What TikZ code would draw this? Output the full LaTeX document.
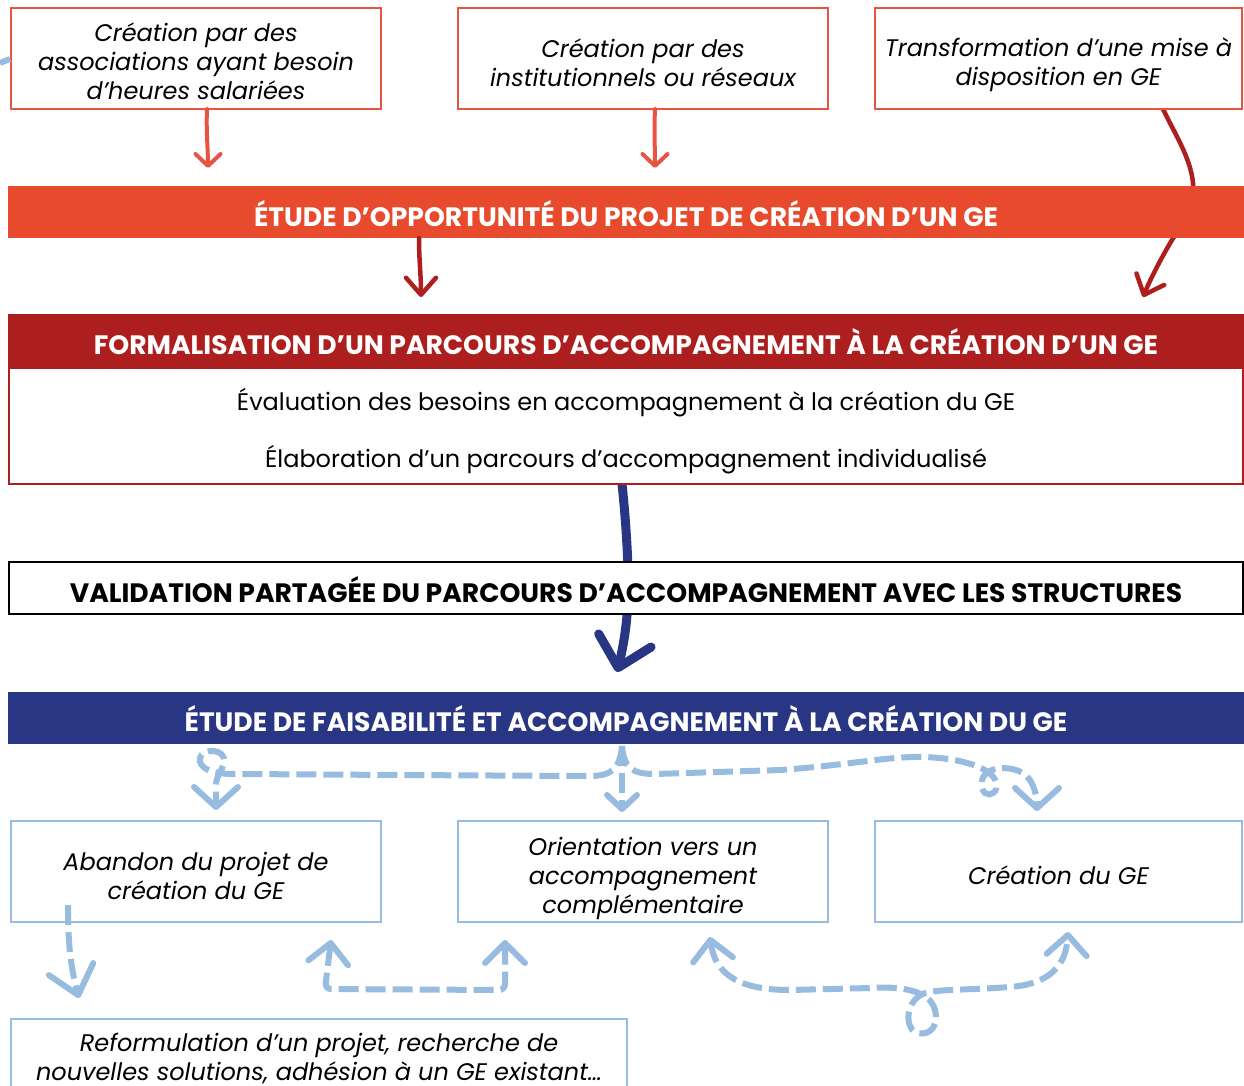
\documentclass[tikz,border=0pt]{standalone}
\usepackage{fontspec}
\setmainfont{Poppins}
\usetikzlibrary{arrows.meta,backgrounds}
\definecolor{cRed}{RGB}{232,84,66}
\definecolor{cOrange}{RGB}{232,74,45}
\definecolor{cDark}{RGB}{173,31,30}
\definecolor{cNavy}{RGB}{41,54,132}
\definecolor{cLight}{RGB}{152,187,224}
\newcommand\myit{\fontsize{24}{29}\selectfont\itshape}
\newcommand\mybold{\fontsize{26.6}{30}\selectfont\bfseries}
\newcommand\myreg{\fontsize{24}{28}\selectfont}
\begin{document}
\begin{tikzpicture}[x=1pt,y=-1pt,
  every node/.style={inner sep=0pt, outer sep=0pt},
  topbox/.style={draw=cRed, line width=2.4pt, fill=white, minimum width=370pt, minimum height=101pt},
  botbox/.style={draw=cLight, line width=2.4pt, fill=white, minimum width=370pt, minimum height=101pt},
  boxtext/.style={align=center, font=\myit},
  band/.style={minimum width=1236pt, minimum height=52pt},
  bandtext/.style={anchor=base, font=\mybold, text=white},
  redarr/.style={draw=cRed, line width=4pt, line cap=round, -{Straight Barb[length=12pt,width=25pt,round]}},
  darkarr/.style={draw=cDark, line width=4.5pt, line cap=round, -{Straight Barb[length=17pt,width=30pt,round]}},
  navyarr/.style={draw=cNavy, line width=9pt, line cap=round, -{Straight Barb[length=28pt,width=54pt,round]}},
  lbline/.style={draw=cLight, line width=6pt, dash pattern=on 20pt off 7pt},
  lbsmall/.style={lbline, -{Straight Barb[length=14pt,width=30pt,round]}},
  lbarr/.style={lbline, -{Straight Barb[length=20pt,width=44pt,round]}},
  lbbig/.style={lbline, -{Straight Barb[length=27pt,width=46pt,round]}},
  lbboth/.style={lbline, {Straight Barb[length=20pt,width=40pt,round]}-{Straight Barb[length=20pt,width=40pt,round]}}
]
\useasboundingbox (0,0) rectangle (1244,1085);

% top boxes
\node[topbox] (b1) at (196,58.5) {};
\node[boxtext] (b1t) at (196,61.5) {Création par des\\associations ayant besoin\\d’heures salariées};
\node[topbox] (b2) at (643,58.5) {};
\node[boxtext] (b2t) at (643,62.5) {Création par des\\institutionnels ou réseaux};
\node[topbox, minimum width=367pt] (b3) at (1058.5,58.5) {};
\node[boxtext] (b3t) at (1058.5,64.5) {Transformation d’une mise à\\disposition en GE};

% band 1
\node[band, fill=cOrange] (opp) at (626,212) {};
\node[bandtext] (opptxt) at (626,226) {ÉTUDE D’OPPORTUNITÉ DU PROJET DE CRÉATION D’UN GE};

% formalisation
\node[draw=cDark, line width=2pt, fill=white, minimum width=1234pt, minimum height=116pt] (form) at (626,426) {};
\node[band, fill=cDark, minimum height=54pt] (formh) at (626,341) {};
\node[bandtext] (formtxt) at (626,354) {FORMALISATION D’UN PARCOURS D’ACCOMPAGNEMENT À LA CRÉATION D’UN GE};
\node[anchor=base, font=\myreg] (ev) at (626,410) {Évaluation des besoins en accompagnement à la création du GE};
\node[anchor=base, font=\myreg] (el) at (626,467) {Élaboration d’un parcours d’accompagnement individualisé};

% validation
\node[draw=black, line width=2.4pt, fill=white, minimum width=1234pt, minimum height=52pt] (val) at (626,588) {};
\node[bandtext, text=black] (valtxt) at (626,602) {VALIDATION PARTAGÉE DU PARCOURS D’ACCOMPAGNEMENT AVEC LES STRUCTURES};

% band 3
\node[band, fill=cNavy] (fea) at (626,718) {};
\node[bandtext] (featxt) at (626,731) {ÉTUDE DE FAISABILITÉ ET ACCOMPAGNEMENT À LA CRÉATION DU GE};

% bottom boxes
\node[botbox] (ba) at (196,871.5) {};
\node[boxtext] (bat) at (196,876) {Abandon du projet de\\création du GE};
\node[botbox] (bb) at (643,871.5) {};
\node[boxtext] (bbt) at (643,878.5) {Orientation vers un\\accompagnement\\complémentaire};
\node[botbox, minimum width=367pt] (bc) at (1058.5,871.5) {};
\node[boxtext] (bct) at (1058.5,875.5) {Création du GE};
\node[botbox, minimum width=616pt, minimum height=80pt] (bd) at (319,1059) {};
\node[boxtext] (bdt) at (319,1058.5) {Reformulation d’un projet, recherche de\\nouvelles solutions, adhésion à un GE existant…};

% coordinates
\coordinate (t1) at (208,168);
\coordinate (t2) at (655,168);
\coordinate (t3) at (1143,297);
\coordinate (t4) at (421,297);
\coordinate (t5) at (617,672);
\coordinate (split) at (622,746);
\coordinate (tm) at (622,812);
\coordinate (tl) at (216,810);
\coordinate (tr) at (1037,811);
\coordinate (ta) at (79,998);
\coordinate (br1) at (331,940);
\coordinate (br2) at (505,940);
\coordinate (cr1) at (710,937);
\coordinate (cr2) at (1068,932);
\coordinate (frag) at (10,59);

\begin{pgfonlayer}{background}
\draw[darkarr] (b3.south -| 1163,0) .. controls (1175,135) and (1196,165) .. (1193,195)
   .. controls (1190,215) and (1180,228) .. (1172,240)
   .. controls (1160,260) and (1150,280) .. (t3);
\draw[navyarr] (form.south -| 622,0) .. controls (628,540) and (630,600) .. (627,615)
   .. controls (625,640) and (620,660) .. (t5);
\end{pgfonlayer}

\draw[redarr] (b1.south -| 207,0) .. controls (206,130) and (208,150) .. (t1);
\draw[redarr] (b2.south -| 655,0) .. controls (654,130) and (655,150) .. (t2);
\draw[darkarr] (opp.south -| 419,0) .. controls (419,260) and (421,275) .. (t4);

% light blue connectors
\draw[lbsmall] (split) -- (tm);
\draw[lbarr] (split) .. controls (620,768) and (612,776) .. (590,776) -- (400,775)
   -- (240,774) .. controls (212,775) and (198,768) .. (200,758)
   .. controls (202,748) and (226,748) .. (224,762)
   .. controls (222,772) and (216,776) .. (216,785) -- (tl);
\draw[lbarr] (split) .. controls (624,768) and (632,774) .. (655,774) -- (780,770)
   .. controls (850,765) and (890,756) .. (923,757)
   .. controls (962,758) and (992,768) .. (996,782)
   .. controls (999,792) and (990,797) .. (985,793)
   .. controls (979,788) and (980,774) .. (992,770)
   .. controls (1004,766) and (1022,768) .. (1030,780)
   .. controls (1036,790) and (1037,800) .. (tr);
\draw[lbbig] (ba.south -| 68,0) ++(0,-17) .. controls (68,940) and (70,965) .. (ta);
\draw[lbboth, rounded corners=6pt] (br1) -- (325,989) -- (505,990) -- (br2);
\draw[lbboth] (cr1) .. controls (715,975) and (740,990) .. (790,990) -- (870,988)
   .. controls (900,986) and (930,990) .. (935,1010)
   .. controls (940,1030) and (925,1037) .. (915,1032)
   .. controls (905,1027) and (905,1000) .. (925,993)
   .. controls (940,989) and (970,990) .. (1010,987)
   .. controls (1050,984) and (1066,965) .. (cr2);
\draw[draw=cLight, line width=6pt] (0,63) -- (frag);
\end{tikzpicture}
\end{document}
